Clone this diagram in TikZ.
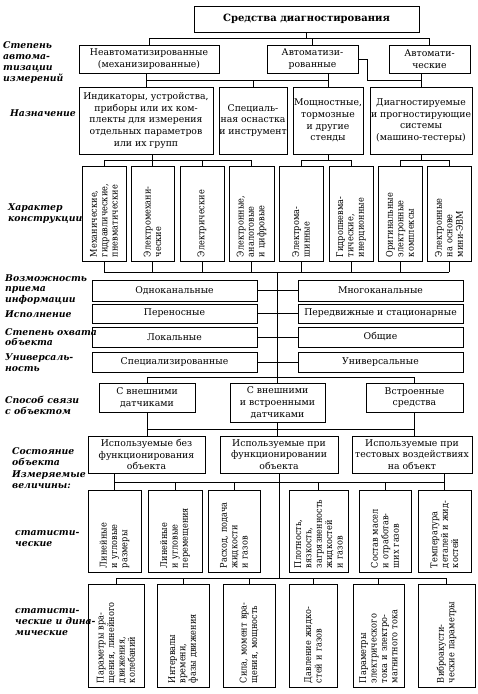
\documentclass[tikz,border=0pt]{standalone}
\usepackage{fontspec}
\setmainfont{DejaVu Serif}
\newfontfamily\condfont[FakeStretch=0.88]{DejaVu Serif}
\tikzset{
  box/.style={draw, line width=0.9pt, inner sep=0pt, align=center, font=\fontsize{9.3}{11.8}\selectfont},
  tbox/.style={box, font=\fontsize{10}{12}\selectfont\bfseries},
  rbox/.style={draw, line width=0.9pt, rotate=90, inner ysep=0pt, inner xsep=4pt, align=left, font=\condfont\fontsize{9.3}{10.4}\selectfont},
  lab/.style={anchor=west, inner sep=0pt, align=left, font=\fontsize{9.3}{11}\selectfont\bfseries\itshape},
  con/.style={line width=0.8pt},
}
\newcommand\Bx[7][box]{%
  \pgfmathsetmacro\Bcx{(#3+#5)/2}\pgfmathsetmacro\Bcy{(#4+#6)/2}%
  \pgfmathsetmacro\Bw{#5-#3}\pgfmathsetmacro\Bh{#6-#4}%
  \node[#1,minimum width=\Bw pt,minimum height=\Bh pt] (#2) at (\Bcx,\Bcy) {#7};}
\newcommand\Rx[6]{%
  \pgfmathsetmacro\Bcx{(#2+#4)/2}\pgfmathsetmacro\Bcy{(#3+#5)/2}%
  \pgfmathsetmacro\Bw{#4-#2}\pgfmathsetmacro\Btw{#5-#3-8}%
  \node[rbox,text width=\Btw pt,minimum height=\Bw pt] (#1) at (\Bcx,\Bcy) {#6};}
\begin{document}
\begin{tikzpicture}[x=1pt,y=-1pt]
\useasboundingbox[fill=white] (0,0) rectangle (477,694);
% labels
\node[lab] (l1) at (3,62.5) {Степень\\автома-\\тизации\\измерений};
\node[lab] (l2) at (10,113) {Назначение};
\node[lab] (l3) at (8,213.5) {Характер\\конструкции};
\node[lab,font=\fontsize{9.3}{10.5}\selectfont\bfseries\itshape] (l4) at (5,289.5) {Возможность\\приема\\информации};
\node[lab] (l5) at (5,314) {Исполнение};
\node[lab,font=\fontsize{9.3}{10.5}\selectfont\bfseries\itshape] (l6) at (5,337) {Степень охвата\\объекта};
\node[lab,font=\fontsize{9.3}{10.5}\selectfont\bfseries\itshape] (l7) at (5,362.5) {Универсаль-\\ность};
\node[lab] (l8) at (5,405) {Способ связи\\с объектом};
\node[lab] (l9) at (12,456.5) {Состояние\\объекта};
\node[lab] (l10) at (12,479.5) {Измеряемые\\величины:};
\node[lab] (l11) at (15,538.5) {статисти-\\ческие};
\node[lab] (l12) at (15,622) {статисти-\\ческие и дина-\\мические};
% row 1-2
\Bx[tbox]{T}{194}{6}{419}{32}{Средства диагностирования}
\Bx{A1}{79}{45}{219}{73}{Неавтоматизированные\\(механизированные)}
\Bx{A2}{267}{45}{358}{73}{Автоматизи-\\рованные}
\Bx{A3}{389}{45}{470}{73}{Автомати-\\ческие}
% row 3
\Bx{N1}{79}{87}{213}{154}{Индикаторы, устройства,\\приборы или их ком-\\плекты для измерения\\отдельных параметров\\или их групп}
\Bx{N2}{219}{87}{287}{154}{Специаль-\\ная оснастка\\и инструмент}
\Bx{N3}{293}{87}{363}{154}{Мощностные,\\тормозные\\и другие\\стенды}
\Bx{N4}{370}{87}{472}{154}{Диагностируемые\\и прогностирующие\\системы\\(машино-тестеры)}
% row 4
\Rx{K1}{82}{166}{126}{261}{Механические,\\гидравлические,\\пневматические}
\Rx{K2}{131}{166}{174}{261}{Электромехани-\\ческие}
\Rx{K3}{180}{166}{224}{261}{Электрические}
\Rx{K4}{229}{166}{274}{261}{Электронные,\\аналоговые\\и цифровые}
\Rx{K5}{279}{166}{323}{261}{Электрома-\\шинные}
\Rx{K6}{329}{166}{373}{261}{Гидропневма-\\тические,\\инерционные}
\Rx{K7}{378}{166}{422}{261}{Оригинальные\\электронные\\комплексы}
\Rx{K8}{427}{166}{471}{261}{Электронные\\на основе\\мини-ЭВМ}
% rows 5-8
\Bx{O1}{92}{280}{257}{301}{Одноканальные}
\Bx{O2}{298}{280}{463}{301}{Многоканальные}
\Bx{P1}{92}{304}{257}{323}{Переносные}
\Bx{P2}{298}{304}{463}{323}{Передвижные и стационарные}
\Bx{L1}{92}{327}{257}{347}{Локальные}
\Bx{L2}{298}{327}{463}{347}{Общие}
\Bx{U1}{92}{352}{257}{372}{Специализированные}
\Bx{U2}{298}{352}{463}{372}{Универсальные}
% row 9
\Bx{S1}{99}{383}{195}{412}{С внешними\\датчиками}
\Bx{S2}{230}{383}{325}{422}{С внешними\\и встроенными\\датчиками}
\Bx{S3}{366}{383}{463}{412}{Встроенные\\средства}
% row 10
\Bx{F1}{88}{436}{205}{473}{Используемые без\\функционирования\\объекта}
\Bx{F2}{220}{436}{338}{473}{Используемые при\\функционировании\\объекта}
\Bx{F3}{352}{436}{472}{473}{Используемые при\\тестовых воздействиях\\на объект}
% row 11
\Rx{M1}{88}{490}{141}{572}{Линейные\\и угловые\\размеры}
\Rx{M2}{148}{490}{202}{572}{Линейные\\и угловые\\перемещения}
\Rx{M3}{208}{490}{260}{572}{Расход, подача\\жидкости\\и газов}
\Rx{M4}{289}{490}{348}{572}{Плотность,\\вязкость,\\загрязненность\\жидкостей\\и газов}
\Rx{M5}{359}{490}{411}{572}{Состав масел\\и отработав-\\ших газов}
\Rx{M6}{418}{490}{471}{572}{Температура\\деталей и жид-\\костей}
% row 12
\Rx{D1}{88}{584}{144}{687}{Параметры вра-\\щения, линейного\\движения,\\колебаний}
\Rx{D2}{157}{584}{209}{687}{Интервалы\\времени,\\фазы движения}
\Rx{D3}{223}{584}{275}{687}{Сила, момент вра-\\щения, мощность}
\Rx{D4}{289}{584}{337}{687}{Давление жидко-\\стей и газов}
\Rx{D5}{353}{584}{404}{687}{Параметры\\электрического\\тока и электро-\\магнитного тока}
\Rx{D6}{418}{584}{475}{687}{Виброакусти-\\ческие параметры}
% bus coordinates
\coordinate (b1) at (0,38);
\coordinate (b2) at (0,80);
\coordinate (b3) at (0,160);
\coordinate (b4) at (0,272);
\coordinate (b5) at (0,377);
\coordinate (b6) at (0,429);
\coordinate (b7) at (0,482);
\coordinate (b8) at (0,578);
\coordinate (ar) at (367,0);
% connectors top
\draw[con] (T.south) -- (T.south|-b1);
\draw[con] (A1.north) -- (A1.north|-b1) -- (A3.north|-b1) -- (A3.north);
\draw[con] (A2.north) -- (A2.north|-b1);
% row 2 -> 3
\draw[con] (N1.north|-A1.south) -- (N1.north);
\draw[con] (N1.north|-b2) -- (N3.north|-b2);
\draw[con] (N2.north|-b2) -- (N2.north);
\draw[con] (N3.north|-A2.south) -- (N3.north);
\draw[con] (A2.east) -- (A2.east-|ar) -- (ar|-b2) -- (N4.north|-b2);
\draw[con] (N4.north|-A3.south) -- (N4.north);
% row 3 -> 4 (rotated boxes: east = top, west = bottom)
\draw[con] (K2.east|-N1.south) -- (K2.east);
\draw[con] (K1.east) -- (K1.east|-b3) -- (K4.east|-b3) -- (K4.east);
\draw[con] (K3.east|-b3) -- (K3.east);
\draw[con] (N3.south) -- (N3.south|-b3);
\draw[con] (K5.east) -- (K5.east|-b3) -- (K6.east|-b3) -- (K6.east);
\draw[con] (N4.south) -- (N4.south|-b3);
\draw[con] (K7.east) -- (K7.east|-b3) -- (K8.east|-b3) -- (K8.east);
% row 4 -> spine
\foreach \k in {K1,K2,K3,K4,K5,K6,K7,K8} \draw[con] (\k.west) -- (\k.west|-b4);
\draw[con] (K1.west|-b4) -- (K8.west|-b4);
\draw[con] (S2.north|-b4) -- (S2.north);
\draw[con] (O1.east) -- (O2.west);
\draw[con] (P1.east) -- (P2.west);
\draw[con] (L1.east) -- (L2.west);
\draw[con] (U1.east) -- (U2.west);
% row 9
\draw[con] (S1.north) -- (S1.north|-b5) -- (S3.north|-b5) -- (S3.north);
% row 9 -> 10
\draw[con] (S1.south) -- (S1.south|-F1.north);
\draw[con] (S2.south) -- (S2.south|-F2.north);
\draw[con] (S3.south) -- (S3.south|-F3.north);
\draw[con] (S1.south|-b6) -- (S3.south|-b6);
% row 10 -> 11
\draw[con] (M1.east|-F1.south) -- (M1.east);
\draw[con] (M6.east|-F3.south) -- (M6.east);
\draw[con] (M1.east|-b7) -- (M6.east|-b7);
\foreach \m in {M2,M3,M4,M5} \draw[con] (\m.east|-b7) -- (\m.east);
\draw[con] (F2.south) -- (F2.south|-b8);
% row 12
\draw[con] (D1.east|-b8) -- (D6.east|-b8);
\foreach \d in {D1,D2,D3,D4,D5,D6} \draw[con] (\d.east|-b8) -- (\d.east);
\end{tikzpicture}
\end{document}
